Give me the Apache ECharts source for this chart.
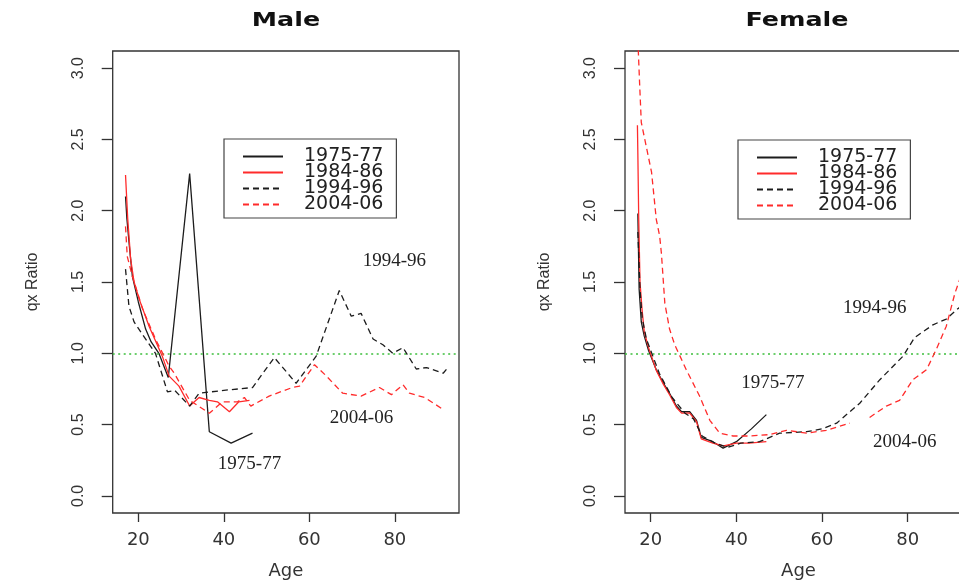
<!DOCTYPE html>
<html><head><meta charset="utf-8">
<script src="https://cdn.jsdelivr.net/npm/echarts@6/dist/echarts.min.js"></script>
<style>html,body{margin:0;padding:0;background:#fff}#c{width:959px;height:580px}</style>
</head><body><div id="c"></div>
<script>
// ---------- data ----------
const seriesNames = ['1975-77', '1984-86', '1994-96', '2004-06'];
const panelTitles = ['Male', 'Female'];
const xTicks = [20, 40, 60, 80];
const yTicks = [0, 0.5, 1, 1.5, 2, 2.5, 3];
const refLevel = 1.0;

// Male
const maleAge7577 = [17, 17.3, 18, 18.6, 20, 21.7, 23, 24.8, 27, 32, 36.6, 41.7, 46.7];
const maleVal7577 = [2.1, 1.95, 1.72, 1.54, 1.36, 1.17, 1.08, 1.0, 0.83, 2.26, 0.45, 0.37, 0.44];
const maleAge8486 = [17, 17.5, 18.2, 19, 20.2, 22.5, 25.6, 27.2, 29.5, 32, 34.2, 36.6, 38.5, 41.3, 43.5, 46];
const maleVal8486 = [2.25, 1.95, 1.66, 1.5, 1.38, 1.19, 0.98, 0.84, 0.77, 0.63, 0.69, 0.67, 0.66, 0.59, 0.66, 0.67];
const maleAge9496 = [17, 17.8, 19, 21, 24, 26.8, 28.5, 32, 34.2, 40, 46.7, 51.8, 56.9, 61.6, 67, 69.8, 72.1, 74.9, 77.2, 79.5, 81.9, 85, 87.4, 91.3, 92.4];
const maleVal9496 = [1.59, 1.33, 1.22, 1.13, 1.0, 0.73, 0.74, 0.63, 0.72, 0.74, 0.76, 0.97, 0.79, 0.98, 1.44, 1.26, 1.28, 1.10, 1.06, 1.0, 1.04, 0.89, 0.90, 0.86, 0.90];
const maleAge0406 = [17, 17.4, 18.6, 21, 24, 27.2, 28.4, 32, 36.6, 39.7, 43.2, 44.8, 46.3, 50.6, 56, 57.7, 61.2, 64, 67.8, 72.1, 76.4, 79.2, 81.9, 83.4, 87, 91.6];
const maleVal0406 = [1.89, 1.68, 1.54, 1.31, 1.10, 0.91, 0.86, 0.67, 0.58, 0.66, 0.66, 0.69, 0.63, 0.70, 0.76, 0.77, 0.92, 0.84, 0.72, 0.70, 0.76, 0.71, 0.78, 0.72, 0.69, 0.60];

// Female
const femAge7577 = [17, 17.3, 17.8, 18.5, 19.5, 21.3, 23, 24.4, 26, 27.2, 29.1, 30.7, 31.8, 34.5, 36.9, 40, 43.5, 47];
const femVal7577 = [1.98, 1.45, 1.22, 1.12, 1.02, 0.885, 0.79, 0.72, 0.63, 0.59, 0.59, 0.53, 0.41, 0.38, 0.335, 0.38, 0.47, 0.57];
const femAge8486 = [16.9, 17, 17.2, 17.5, 18, 18.5, 19.5, 21.3, 23, 24.4, 26, 27.2, 29.1, 30.7, 31.8, 34.5, 37, 40, 43, 47];
const femVal8486 = [2.6, 2.4, 1.95, 1.5, 1.3, 1.15, 1.04, 0.88, 0.78, 0.71, 0.62, 0.58, 0.58, 0.52, 0.40, 0.37, 0.35, 0.37, 0.37, 0.38];
const femAge9496 = [17, 17.5, 18, 19, 20, 22, 25, 28, 30, 32, 35, 38, 41, 45.4, 50.1, 56.4, 60, 63.4, 68.8, 73.5, 78.9, 81.6, 85.9, 89, 91, 92.4];
const femVal9496 = [1.85, 1.45, 1.25, 1.1, 1.02, 0.86, 0.69, 0.58, 0.54, 0.42, 0.37, 0.34, 0.37, 0.38, 0.44, 0.45, 0.47, 0.51, 0.65, 0.815, 0.98, 1.11, 1.20, 1.24, 1.295, 1.33];
const femAge0406 = [17, 17.4, 17.8, 20.2, 21.3, 22.1, 22.5, 23.3, 24.4, 25.6, 28.3, 31.4, 33.8, 36.1, 39.2, 43.1, 47.8, 51.7, 56.4, 61, 66.5, 68.8, 71.1, 75, 78.1, 81.2, 84.4, 86.7, 89, 91, 92.5];
const femVal0406 = [3.2, 2.9, 2.62, 2.27, 1.94, 1.82, 1.70, 1.35, 1.17, 1.06, 0.885, 0.70, 0.53, 0.44, 0.42, 0.42, 0.43, 0.46, 0.44, 0.46, 0.51, null, 0.55, 0.63, 0.67, 0.815, 0.885, 1.03, 1.19, 1.42, 1.55];

// annotation texts
const maleNoteText = ['1994-96', '2004-06', '1975-77'];
const femNoteText = ['1994-96', '1975-77', '2004-06'];

// ---------- build ----------
const zip = (a, v) => a.map((x, i) => [x, v[i]]);
const maleData = [zip(maleAge7577, maleVal7577), zip(maleAge8486, maleVal8486), zip(maleAge9496, maleVal9496), zip(maleAge0406, maleVal0406)];
const femData = [zip(femAge7577, femVal7577), zip(femAge8486, femVal8486), zip(femAge9496, femVal9496), zip(femAge0406, femVal0406)];

const BLACK = '#1c1c1c', RED = '#ff2b2b';
const styles = [
  { color: BLACK, type: 'solid' },
  { color: RED, type: 'solid' },
  { color: BLACK, type: [6, 4] },
  { color: RED, type: [6, 4] }
];
const arial = "'Liberation Sans', Arial, sans-serif";
const sans = "'DejaVu Sans', 'Liberation Sans', sans-serif";
const serif = "'Liberation Serif', 'DejaVu Serif', serif";

function makeSeries(g, datasets, noteCoords, noteText) {
  return datasets.map((d, i) => {
    const s = {
      name: seriesNames[i], type: 'line', xAxisIndex: g, yAxisIndex: g,
      data: d, symbol: 'none', showSymbol: false, connectNulls: false, clip: true,
      lineStyle: { color: styles[i].color, type: styles[i].type, width: 1.3 },
      itemStyle: { color: styles[i].color },
      emphasis: { disabled: true }, animation: false, z: 3 + i
    };
    if (i === 0) {
      s.markLine = {
        silent: true, symbol: ['none', 'none'], label: { show: false },
        lineStyle: { color: '#3cbf3c', type: [2, 3.5], width: 1.6 },
        data: [{ yAxis: refLevel }], animation: false
      };
      s.markPoint = {
        silent: true, symbol: 'rect', symbolSize: 1, itemStyle: { color: 'rgba(0,0,0,0)' },
        label: { show: true, position: 'inside', color: '#222', fontFamily: serif, fontSize: 19, formatter: p => p.name },
        data: noteCoords.map((c, k) => ({ name: noteText[k], coord: c })), animation: false
      };
    }
    return s;
  });
}

function xAxis(g) {
  return {
    type: 'value', gridIndex: g, min: 14, max: 95,
    name: 'Age', nameLocation: 'middle', nameGap: 49,
    nameTextStyle: { fontFamily: sans, fontSize: 18, color: '#333' },
    axisLine: { show: false, onZero: false },
    axisTick: { show: true, length: 9, inside: false, customValues: xTicks, lineStyle: { color: '#333', width: 1.3 } },
    axisLabel: { show: true, margin: 18, customValues: xTicks, fontFamily: sans, fontSize: 18, color: '#333' },
    splitLine: { show: false }
  };
}
function yAxis(g) {
  return {
    type: 'value', gridIndex: g, min: -0.12, max: 3.12,
    name: 'qx Ratio', nameLocation: 'middle', nameGap: 72, nameRotate: 90,
    nameTextStyle: { fontFamily: arial, fontSize: 16, color: '#333' },
    axisLine: { show: false, onZero: false },
    axisTick: { show: true, length: 11, inside: false, customValues: yTicks, lineStyle: { color: '#333', width: 1.3 } },
    axisLabel: { show: true, rotate: 90, margin: 26, customValues: yTicks, fontFamily: arial, fontSize: 16, color: '#333', formatter: v => v.toFixed(1) },
    splitLine: { show: false }
  };
}
function legend(left, top) {
  return {
    orient: 'vertical', left: left, top: top, data: seriesNames,
    itemWidth: 40, itemHeight: 10, itemGap: -3,
    padding: [8, 13, 4, 18], borderColor: '#444', borderWidth: 1.2,
    backgroundColor: '#fff', selectedMode: false,
    itemStyle: { color: 'rgba(0,0,0,0)', borderWidth: 0, opacity: 0 },
    textStyle: { fontFamily: sans, fontSize: 19, color: '#222', padding: [0, 0, 0, 16] }
  };
}

const chart = echarts.init(document.getElementById('c'), null, { renderer: 'canvas' });
chart.setOption({
  animation: false,
  backgroundColor: '#fff',
  grid: [
    { left: 112.7, top: 51, width: 346.3, height: 462, outerBoundsMode: 'none', containLabel: false, show: true, borderColor: '#333', borderWidth: 1.3, backgroundColor: 'transparent' },
    { left: 625, top: 51, width: 347, height: 462, outerBoundsMode: 'none', containLabel: false, show: true, borderColor: '#333', borderWidth: 1.3, backgroundColor: 'transparent' }
  ],
  xAxis: [xAxis(0), xAxis(1)],
  yAxis: [yAxis(0), yAxis(1)],
  legend: [legend(224, 139), legend(738, 140)],
  graphic: [
    { type: 'text', x: 286, y: 21, scaleX: 1.27, style: { text: panelTitles[0], align: 'center', verticalAlign: 'middle', font: "bold 20px 'DejaVu Sans', sans-serif", fill: '#111' } },
    { type: 'text', x: 797, y: 21, scaleX: 1.27, style: { text: panelTitles[1], align: 'center', verticalAlign: 'middle', font: "bold 20px 'DejaVu Sans', sans-serif", fill: '#111' } }
  ],
  series: [
    ...makeSeries(0, maleData, [[79.9, 1.644], [72.2, 0.548], [46, 0.225]], maleNoteText),
    ...makeSeries(1, femData, [[72.3, 1.32], [48.5, 0.794], [79.3, 0.38]], femNoteText)
  ]
});
</script>
</body></html>
